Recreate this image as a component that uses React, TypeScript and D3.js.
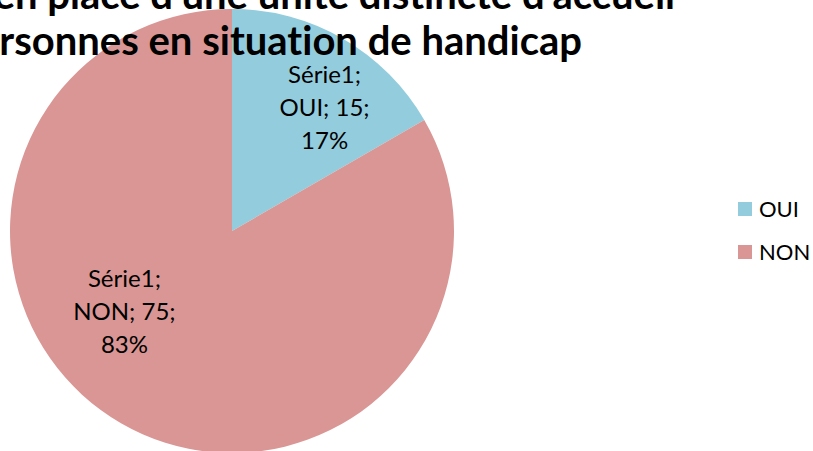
import React, { useEffect, useRef } from 'react';
import * as d3 from 'd3';

const categories = ['OUI', 'NON'];
const values = [15, 75];
const seriesName = 'Série1';
const titleLines = ["Mise en place d'une unité distincte d'accueil", 'personnes en situation de handicap'];
const colors = ['#93CDDD', '#D99694'];

const App = () => {
  const ref = useRef<SVGSVGElement>(null);

  useEffect(() => {
    const width = 813;
    const height = 451;
    const cx = 232;
    const cy = 231;
    const radius = 222;
    const font = 'Lato, Carlito, sans-serif';

    const svg = d3.select(ref.current)
      .attr('width', width)
      .attr('height', height);
    svg.selectAll('*').remove();

    const total = d3.sum(values);
    const data = categories.map((c, i) => ({ name: c, value: values[i] }));

    const pie = d3.pie<any>().sort(null).value(d => d.value);
    const arc = d3.arc<any>().innerRadius(0).outerRadius(radius);
    const labelArc = d3.arc<any>().innerRadius(radius * 0.69).outerRadius(radius * 0.69);
    // Excel "best fit" nudges
    const labelShift = [[16, 10], [-31, -52]];

    const g = svg.append('g').attr('transform', `translate(${cx}, ${cy})`);

    const arcs = pie(data);
    g.selectAll('path')
      .data(arcs)
      .join('path')
      .attr('d', arc)
      .attr('fill', (d, i) => colors[i]);

    // Data labels
    arcs.forEach((d, i) => {
      const [x, y] = labelArc.centroid(d);
      const pct = Math.round((d.data.value / total) * 100);
      const lines = [`${seriesName};`, `${d.data.name}; ${d.data.value};`, `${pct}%`];
      const t = g.append('text')
        .attr('text-anchor', 'middle')
        .attr('font-family', font)
        .attr('font-size', 24)
        .attr('fill', '#000');
      lines.forEach((l, j) => {
        t.append('tspan')
          .attr('x', x + labelShift[i][0])
          .attr('y', y + labelShift[i][1] + (j - 1) * 33 + 8)
          .text(l);
      });
    });

    // Title (cropped by the frame, like the reference)
    const title = svg.append('text')
      .attr('text-anchor', 'end')
      .attr('font-family', font)
      .attr('font-weight', 'bold')
      .attr('font-size', 40)
      .style('font-variant-ligatures', 'none')
      .attr('fill', '#000');
    titleLines.forEach((l, j) => {
      title.append('tspan')
        .attr('x', j === 0 ? 675 : 582)
        .attr('y', 9 + j * 46)
        .text(l);
    });

    // Legend
    const legend = svg.append('g').attr('transform', 'translate(738, 202)');
    categories.forEach((c, i) => {
      const row = legend.append('g').attr('transform', `translate(0, ${i * 43})`);
      row.append('rect')
        .attr('width', 14)
        .attr('height', 14)
        .attr('fill', colors[i]);
      row.append('text')
        .attr('x', 21)
        .attr('y', 15)
        .attr('font-family', font)
        .attr('font-size', 22)
        .attr('fill', '#000')
        .text(c);
    });
  }, []);

  return (
    <svg ref={ref} style={{ position: 'absolute', left: 0, top: 0, display: 'block' }}></svg>
  );
};

export default App;
